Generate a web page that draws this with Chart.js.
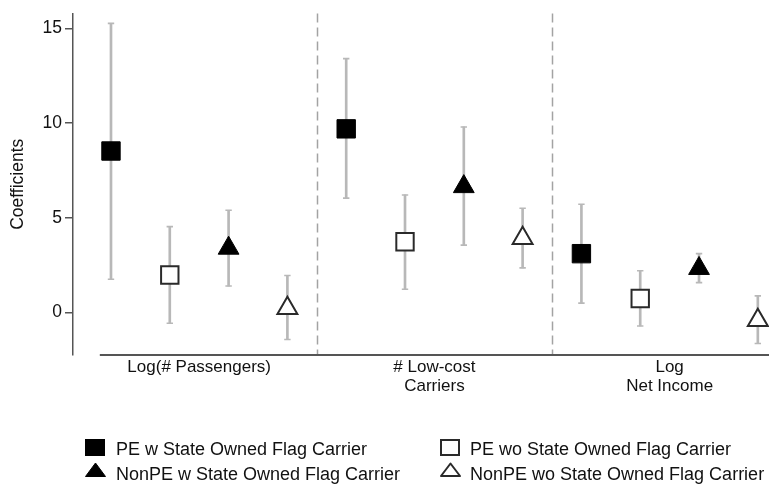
<!DOCTYPE html>
<html>
<head>
<meta charset="utf-8">
<script src="https://cdn.jsdelivr.net/npm/chart.js@4"></script>
<style>
  html, body { margin: 0; padding: 0; background: #fff; }
  #wrap { position: relative; width: 769px; height: 487px; }
  #c { position: absolute; left: 0; top: 0; }
  .lg-item { position: absolute; height: 24px; font: 18px "Liberation Sans", Arial, Helvetica, sans-serif; color: #111; line-height: 24px; white-space: nowrap; }
  .lg-item svg { position: absolute; left: 0; overflow: visible; }
  .lg-item span { position: absolute; }
</style>
</head>
<body>
<div id="wrap">
  <canvas id="c" width="769" height="487"></canvas>
  <div id="legend"></div>
</div>
<script>
// Outcome groups shown along the x axis
const groupLabels = ['Log(# Passengers)', ['# Low-cost', 'Carriers'], ['Log', 'Net Income']];
const seriesNames = [
  'PE w State Owned Flag Carrier',
  'PE wo State Owned Flag Carrier',
  'NonPE w State Owned Flag Carrier',
  'NonPE wo State Owned Flag Carrier'
];
const yTicks = [0, 5, 10, 15];

// Point estimates and confidence bounds, one value per outcome group
const peW       = [8.52, 9.69, 3.10];
const peWLow    = [1.75, 6.03, 0.49];
const peWHigh   = [15.26, 13.40, 5.71];

const peWo      = [1.97, 3.73, 0.73];
const peWoLow   = [-0.57, 1.22, -0.72];
const peWoHigh  = [4.53, 6.20, 2.20];

const nonW      = [3.39, 6.64, 2.32];
const nonWLow   = [1.39, 3.55, 1.57];
const nonWHigh  = [5.39, 9.79, 3.10];

const nonWo     = [0.22, 3.91, -0.41];
const nonWoLow  = [-1.43, 2.35, -1.64];
const nonWoHigh = [1.95, 5.50, 0.87];

const estimates = [peW, peWo, nonW, nonWo];
const lows      = [peWLow, peWoLow, nonWLow, nonWoLow];
const highs     = [peWHigh, peWoHigh, nonWHigh, nonWoHigh];

// Marker look for each series
const markerStyles = [
  { pointStyle: 'rect',     radius: 13,   fill: '#000', stroke: '#000', width: 1 },
  { pointStyle: 'rect',     radius: 12.3, fill: '#fff', stroke: '#2a2a2a', width: 2 },
  { pointStyle: 'triangle', radius: 12,   fill: '#000', stroke: '#000', width: 1 },
  { pointStyle: 'triangle', radius: 11.5, fill: '#fff', stroke: '#2a2a2a', width: 2 }
];

const nSeries = seriesNames.length;
const slot = (g, s) => g * nSeries + s + 1;           // x position of series s in group g
const groupCenter = g => g * nSeries + (nSeries + 1) / 2;
const dividers = groupLabels.slice(1).map((_, g) => (g + 1) * nSeries + 0.5);

const ciGray = '#b8b8b8';
const axisGray = '#555';

const whiskers = [], capsLow = [], capsHigh = [];
estimates.forEach((est, s) => {
  est.forEach((_, g) => {
    whiskers.push({ x: slot(g, s), y: [lows[s][g], highs[s][g]] });
    capsLow.push({ x: slot(g, s), y: lows[s][g] });
    capsHigh.push({ x: slot(g, s), y: highs[s][g] });
  });
});

const markerSets = estimates.map((est, s) => ({
  type: 'scatter',
  label: seriesNames[s],
  data: est.map((v, g) => ({ x: slot(g, s), y: v })),
  pointStyle: markerStyles[s].pointStyle,
  pointRadius: markerStyles[s].radius,
  backgroundColor: markerStyles[s].fill,
  borderColor: markerStyles[s].stroke,
  borderWidth: markerStyles[s].width,
  order: 0
}));

const capStyle = {
  type: 'scatter', pointStyle: 'line', pointRadius: 3.2,
  borderColor: ciGray, borderWidth: 1.6, order: 1
};

// Dashed group dividers and an x baseline that stops short of the y axis
const framePlugin = {
  id: 'frame',
  beforeDatasetsDraw(chart) {
    const { ctx, chartArea: a, scales: { x } } = chart;
    ctx.save();
    ctx.strokeStyle = '#a3a3a3';
    ctx.lineWidth = 1.5;
    ctx.setLineDash([9, 5]);
    dividers.forEach(v => {
      const px = Math.round(x.getPixelForValue(v)) + 0.5;
      ctx.beginPath();
      ctx.moveTo(px, a.top);
      ctx.lineTo(px, a.bottom);
      ctx.stroke();
    });
    ctx.setLineDash([]);
    ctx.strokeStyle = axisGray;
    ctx.lineWidth = 2;
    ctx.beginPath();
    ctx.moveTo(x.getPixelForValue(0.81), a.bottom);
    ctx.lineTo(a.right, a.bottom);
    ctx.stroke();
    ctx.restore();
  }
};

const fontFamily = '"Liberation Sans", Arial, Helvetica, sans-serif';

new Chart(document.getElementById('c'), {
  type: 'scatter',
  data: {
    datasets: [
      ...markerSets,
      Object.assign({ label: 'ci-low', data: capsLow }, capStyle),
      Object.assign({ label: 'ci-high', data: capsHigh }, capStyle),
      {
        type: 'bar', label: 'ci', data: whiskers,
        backgroundColor: ciGray, barThickness: 2, grouped: false, order: 2
      }
    ]
  },
  options: {
    responsive: false,
    animation: false,
    events: [],
    layout: { autoPadding: false, padding: { top: 10, right: 0, bottom: 0, left: 0 } },
    plugins: { legend: { display: false }, tooltip: { enabled: false } },
    elements: { point: { hoverRadius: 0 } },
    scales: {
      x: {
        type: 'linear',
        offset: false,
        min: 0.354,
        max: 12.19,
        grid: { display: false, drawTicks: false, offset: false },
        border: { display: false },
        afterBuildTicks: scale => {
          scale.ticks = groupLabels.map((_, g) => ({ value: groupCenter(g) }));
        },
        afterFit: scale => { scale.height = 132; },
        ticks: {
          autoSkip: false,
          maxRotation: 0,
          padding: 3,
          color: '#111',
          font: { family: fontFamily, size: 17, lineHeight: 1.1 },
          callback: (v, i) => groupLabels[i]
        }
      },
      y: {
        type: 'linear',
        min: -2.25,
        max: 15.78,
        afterBuildTicks: scale => {
          scale.ticks = yTicks.map(v => ({ value: v }));
        },
        afterFit: scale => { scale.width = 73; },
        grid: { drawOnChartArea: false, drawTicks: true, tickLength: 8, color: axisGray, lineWidth: 1.5 },
        border: { display: true, color: axisGray, width: 1.5 },
        ticks: {
          padding: 3,
          color: '#111',
          font: { family: fontFamily, size: 17.5 }
        },
        title: {
          display: true,
          text: 'Coefficients',
          color: '#111',
          font: { family: fontFamily, size: 17.5 },
          padding: { top: 8, bottom: 0 }
        }
      }
    }
  },
  plugins: [framePlugin]
});

// Two-column legend below the plot
const legendCells = [
  { s: 0, left: 85,  top: 437 },
  { s: 1, left: 440, top: 437 },
  { s: 2, left: 85,  top: 462 },
  { s: 3, left: 440, top: 462 }
];
const legendEl = document.getElementById('legend');
legendCells.forEach(cell => {
  const st = markerStyles[cell.s];
  const item = document.createElement('div');
  item.className = 'lg-item';
  item.style.left = cell.left + 'px';
  item.style.top = cell.top + 'px';
  const h = st.width / 2;
  let shape;
  if (st.pointStyle === 'rect') {
    shape = `<rect x="${h}" y="${h}" width="${20 - st.width}" height="${17 - st.width}" fill="${st.fill}" stroke="${st.stroke}" stroke-width="${st.width}"/>`;
    item.innerHTML = `<svg width="20" height="17" style="top:2px">${shape}</svg>`;
  } else {
    shape = `<polygon points="10.5,${h + 0.5} ${21 - h},${15 - h} ${h},${15 - h}" fill="${st.fill}" stroke="${st.stroke}" stroke-width="${st.width}" stroke-linejoin="round"/>`;
    item.innerHTML = `<svg width="21" height="15" style="top:0px">${shape}</svg>`;
  }
  const label = document.createElement('span');
  label.textContent = seriesNames[cell.s];
  label.style.left = (cell.left === 85 ? 31 : 30) + 'px';
  label.style.top = '0px';
  item.appendChild(label);
  legendEl.appendChild(item);
});
</script>
</body>
</html>
